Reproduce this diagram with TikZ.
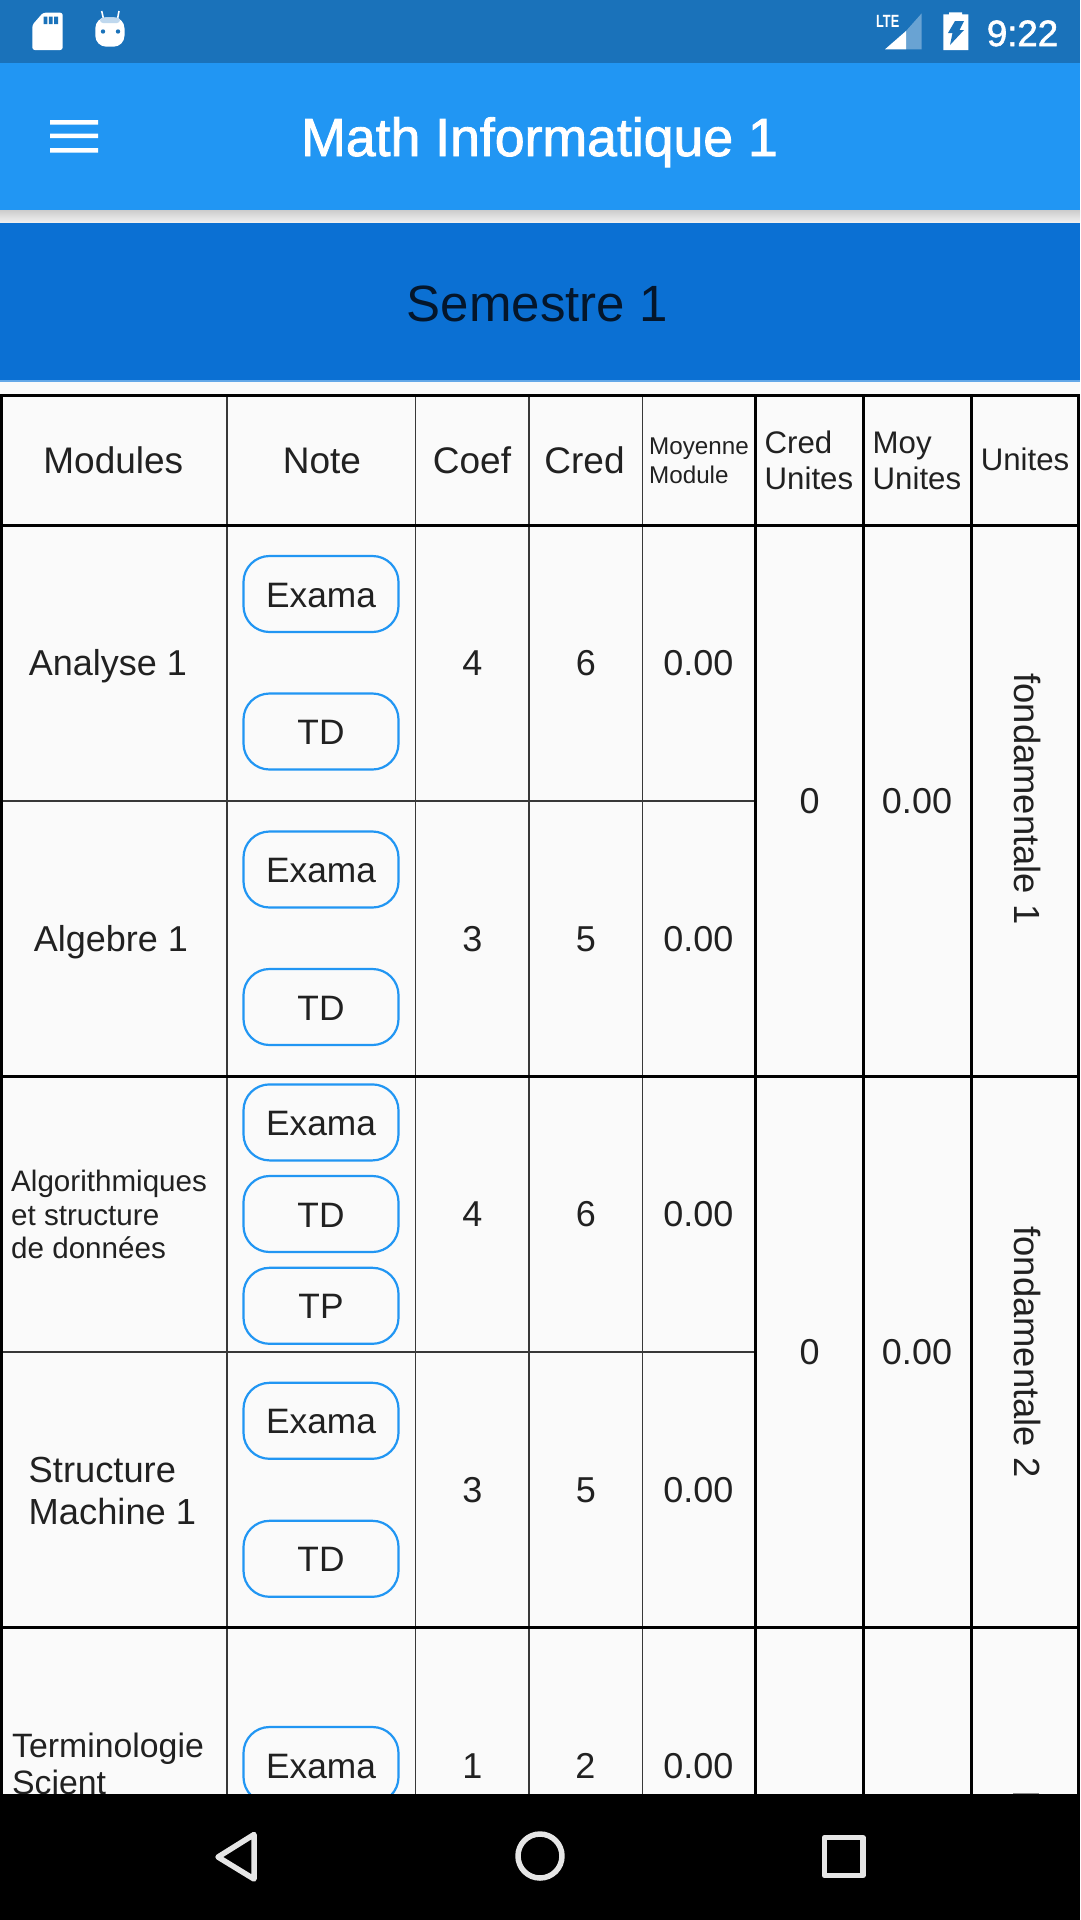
\documentclass[tikz,border=0pt]{standalone}
\usepackage{fontspec}
\setmainfont{Liberation Sans}
\newfontfamily\medfont[FakeBold=1.6]{Liberation Sans}
\definecolor{statusblue}{HTML}{1A72BA}
\definecolor{appblue}{HTML}{2196F3}
\definecolor{headblue}{HTML}{0B70D3}
\definecolor{headline}{HTML}{64A8E8}
\definecolor{pagebg}{HTML}{FAFAFA}
\definecolor{ink}{HTML}{212121}
\definecolor{navyink}{HTML}{04162B}
\definecolor{thinline}{HTML}{383838}
\definecolor{navgrey}{HTML}{E6E6E6}
\definecolor{lightsig}{HTML}{69A3D3}
\definecolor{antcap}{HTML}{BFD8EE}
\tikzset{
  txt/.style={anchor=base,text=ink,inner sep=0pt,font=\fontsize{36}{42}\selectfont},
  headtxt/.style={txt,font=\fontsize{37}{42}\selectfont},
  smalltxt/.style={anchor=base west,text=ink,inner sep=0pt,align=left},
  heavy/.style={line width=3pt,draw=black},
  light/.style={line width=1.5pt,draw=thinline},
  btn/.style={draw=appblue,line width=2.2pt,rounded corners=26pt,minimum width=155pt,minimum height=76pt,
    inner sep=0pt,text=ink,font=\fontsize{35.3}{42}\selectfont,text height=26pt,text depth=0pt,align=center},
  navicon/.style={draw=navgrey,line width=5.5pt,line join=round}
}
\begin{document}
\begin{tikzpicture}[x=1pt,y=-1pt]
\useasboundingbox (0,0) rectangle (1080,1920);
% backgrounds
\fill[pagebg] (0,0) rectangle (1080,1920);
\fill[statusblue] (0,0) rectangle (1080,63);
\fill[appblue] (0,63) rectangle (1080,210);
\shade[top color=black!20,bottom color=black!5] (0,210) rectangle (1080,223);
\fill[headblue] (0,223) rectangle (1080,380);
\fill[headline] (0,380) rectangle (1080,381.5);
% status icons left
\fill[white,rounded corners=2.5pt] (32.3,25) -- (43,12.7) -- (62.7,12.7) -- (62.7,50) -- (32.3,50) -- cycle;
\fill[statusblue] (43.5,16.5) rectangle (47.3,24) (48.8,16.5) rectangle (52.6,24) (54.2,16.5) rectangle (58,24);
\draw[white,line width=1.6pt] (103.3,18) -- (101.7,11) (117.7,18) -- (119,11);
\fill[white,rounded corners=11pt] (95.3,17.3) rectangle (124.5,46.7);
\fill[antcap,rounded corners=3pt] (100,17.5) rectangle (120,23);
\fill[statusblue] (103,31.5) circle (2.2) (118,31.5) circle (2.2);
% status icons right
\node[anchor=base west,inner sep=0pt,text=white,xscale=0.72,font=\bfseries\fontsize{17.7}{20}\selectfont] (lte) at (876,27.7) {LTE};
\fill[lightsig] (906,49.3) -- (921.7,49.3) -- (921.7,13.3) -- (906,31) -- cycle;
\fill[white] (885,49.3) -- (906,49.3) -- (906,31) -- cycle;
\fill[white] (949,12.3) rectangle (962,15) (943.3,14.3) rectangle (968.3,50);
\fill[statusblue] (955,21) -- (964,21) -- (959.5,30) -- (964,30) -- (950,45) -- (952.5,33) -- (948,33) -- cycle;
\node[anchor=base west,inner sep=0pt,text=white,font=\medfont\fontsize{36.6}{42}\selectfont] (clock) at (986.7,46) {9:22};
% app bar
\fill[white] (50,120) rectangle (98,124.5) (50,133.7) rectangle (98,138.2) (50,148) rectangle (98,152.5);
\node[anchor=base west,inner sep=0pt,text=white,font=\medfont\fontsize{53.6}{60}\selectfont] (title) at (301,156) {Math Informatique 1};
\node[anchor=base west,inner sep=0pt,text=navyink,font=\fontsize{51}{60}\selectfont] (sem) at (406.7,321.7) {Semestre 1};
% table lines
\foreach \yy in {801,1352} \draw[light] (2,\yy) -- (755,\yy);
\foreach \xx in {227,415.6,529,642.3} \draw[light] (\xx,395) -- (\xx,1794);
\foreach \xx in {1.3,755.3,863.7,971.7,1078.5} \draw[heavy] (\xx,395) -- (\xx,1794);
\foreach \yy in {395,525.5,1076,1627.5} \draw[heavy] (0,\yy) -- (1080,\yy);
% header
\node[headtxt] (hmod) at (113.3,473) {Modules};
\node[headtxt] (hnote) at (322,473) {Note};
\node[headtxt] (hcoef) at (472,473) {Coef};
\node[headtxt] (hcred) at (584.5,473) {Cred};
\node[smalltxt,font=\fontsize{24.2}{29}\selectfont] (hmoy) at (649,483) {Moyenne\\Module};
\node[smalltxt,font=\fontsize{31.2}{35.3}\selectfont] (hcu) at (764.5,489) {Cred\\Unites};
\node[smalltxt,font=\fontsize{31.2}{35.3}\selectfont] (hmu) at (872.5,489) {Moy\\Unites};
\node[txt,font=\fontsize{31.2}{36}\selectfont] (hun) at (1025,470.5) {Unites};
% row 1
\node[txt] (m1) at (108,675.5) {Analyse 1};
\node[btn] (b1a) at (321,594) {Exama};
\node[btn] (b1b) at (321,731.5) {TD};
\node[txt] (c1) at (472.5,675.5) {4};
\node[txt] (d1) at (586,675.5) {6};
\node[txt] (e1) at (698.4,675.5) {0.00};
% row 2
\node[txt] (m2) at (111,951) {Algebre 1};
\node[btn] (b2a) at (321,869.5) {Exama};
\node[btn] (b2b) at (321,1007) {TD};
\node[txt] (c2) at (472.5,951) {3};
\node[txt] (d2) at (586,951) {5};
\node[txt] (e2) at (698.4,951) {0.00};
% unit 1
\node[txt] (u1c) at (809.6,813.7) {0};
\node[txt] (u1m) at (917,813.7) {0.00};
\node[txt,rotate=-90,font=\fontsize{36.4}{42}\selectfont] (u1n) at (1014.5,799) {fondamentale 1};
% row 3
\node[smalltxt,font=\fontsize{29.6}{33.5}\selectfont] (m3) at (11,1258.5) {Algorithmiques\\et structure\\de données};
\node[btn] (b3a) at (321,1122.4) {Exama};
\node[btn] (b3b) at (321,1214) {TD};
\node[btn] (b3c) at (321,1305.8) {TP};
\node[txt] (c3) at (472.5,1226.8) {4};
\node[txt] (d3) at (586,1226.8) {6};
\node[txt] (e3) at (698.4,1226.8) {0.00};
% row 4
\node[smalltxt,font=\fontsize{36.3}{42}\selectfont] (m4) at (28.5,1524) {Structure\\Machine 1};
\node[btn] (b4a) at (321,1420.8) {Exama};
\node[btn] (b4b) at (321,1558.8) {TD};
\node[txt] (c4) at (472.5,1502) {3};
\node[txt] (d4) at (586,1502) {5};
\node[txt] (e4) at (698.4,1502) {0.00};
% unit 2
\node[txt] (u2c) at (809.6,1364) {0};
\node[txt] (u2m) at (917,1364) {0.00};
\node[txt,rotate=-90,font=\fontsize{36.4}{42}\selectfont] (u2n) at (1014.5,1352) {fondamentale 2};
% row 5
\node[smalltxt,font=\fontsize{33.8}{36.3}\selectfont] (m5) at (12,1794) {Terminologie\\Scient};
\node[btn] (b5a) at (321,1765) {Exama};
\node[txt] (c5) at (472.5,1778) {1};
\node[txt] (d5) at (585.4,1778) {2};
\node[txt] (e5) at (698.4,1778) {0.00};
\fill[black!45] (1013,1792.5) rectangle (1039,1794);
% navigation bar
\fill[black] (0,1794) rectangle (1080,1920);
\draw[navicon] (218,1857) -- (254,1834.5) -- (254,1879) -- cycle;
\draw[navicon] (540,1856) circle (22);
\draw[navicon] (824.5,1837.5) rectangle (863,1875.5);
\end{tikzpicture}
\end{document}
